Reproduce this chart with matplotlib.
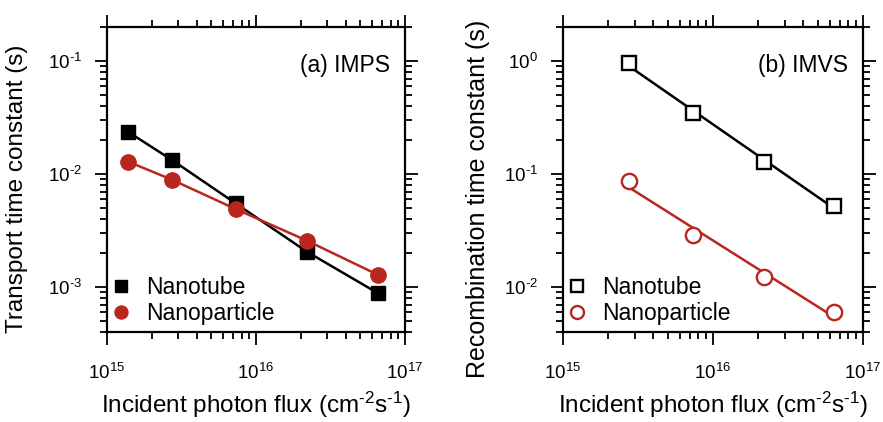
import numpy as np
import matplotlib
matplotlib.use("Agg")
import matplotlib.pyplot as plt
from matplotlib.ticker import FuncFormatter, LogLocator, NullFormatter

plt.rcParams['font.family'] = ['Liberation Sans', 'DejaVu Sans']
plt.rcParams['mathtext.fontset'] = 'custom'
plt.rcParams['mathtext.rm'] = 'Liberation Sans'
plt.rcParams['mathtext.it'] = 'Liberation Sans:italic'
plt.rcParams['mathtext.default'] = 'regular'
plt.rcParams['axes.unicode_minus'] = False

# Panel (a) IMPS
flux_a = [1.38e15, 2.73e15, 7.3e15, 2.2e16, 6.6e16]
tau_tr_tube = [0.0237, 0.0133, 0.0055, 0.00205, 0.00088]
tau_tr_part = [0.0129, 0.0089, 0.0049, 0.00257, 0.00128]

# Panel (b) IMVS
flux_b = [2.75e15, 7.35e15, 2.2e16, 6.45e16]
tau_rec_tube = [0.955, 0.344, 0.127, 0.052]
tau_rec_part = [0.0867, 0.0288, 0.0123, 0.00597]

RED = '#b8261e'


def pow10(v, pos):
    n = int(round(np.log10(v)))
    s = str(n).replace('-', '\u2010')
    return '$10^{' + s + '}$'


fig = plt.figure(figsize=(8.83, 4.22), dpi=100)
ax1 = fig.add_axes([107/883, 1-332/422, 298/883, 305/422])
ax2 = fig.add_axes([563/883, 1-332/422, 300/883, 305/422])

# (a)
ax1.plot(flux_a, tau_tr_tube, '-', color='black', lw=1.8, zorder=2)
ax1.plot(flux_a, tau_tr_part, '-', color=RED, lw=1.8, zorder=2)
ax1.plot(flux_a, tau_tr_tube, 's', color='black', ms=10.5, ls='none', label='Nanotube', zorder=3)
ax1.plot(flux_a, tau_tr_part, 'o', color=RED, ms=11, ls='none', label='Nanoparticle', zorder=4)
ax1.set_ylim(4e-4, 0.2)
ax1.set_ylabel('Transport time constant (s)', fontsize=17.5)
ax1.yaxis.set_label_coords(-0.265, 0.47)
ax1.text(0.95, 0.875, '(a) IMPS', transform=ax1.transAxes, ha='right', va='center', fontsize=16.5)

# (b)
for y, c in [(tau_rec_tube, 'black'), (tau_rec_part, RED)]:
    p = np.polyfit(np.log10(flux_b), np.log10(y), 1)
    xs = np.array([min(flux_b), max(flux_b)])
    ax2.plot(xs, 10**np.polyval(p, np.log10(xs)), '-', color=c, lw=1.8, zorder=2)
ax2.plot(flux_b, tau_rec_tube, 's', mfc='white', mec='black', mew=1.7, ms=10, ls='none', label='Nanotube', zorder=3)
ax2.plot(flux_b, tau_rec_part, 'o', mfc='white', mec=RED, mew=1.7, ms=11, ls='none', label='Nanoparticle', zorder=3)
ax2.set_ylim(4e-3, 2.0)
ax2.set_ylabel('Recombination time constant (s)', fontsize=18)
ax2.yaxis.set_label_coords(-0.243, 0.435)
ax2.text(0.95, 0.875, '(b) IMVS', transform=ax2.transAxes, ha='right', va='center', fontsize=16.5)

for ax in (ax1, ax2):
    ax.set_xscale('log')
    ax.set_yscale('log')
    ax.set_xlim(1e15, 1e17)
    ax.set_xlabel('Incident photon flux (cm$^{\u20102}$s$^{\u20101}$)', fontsize=17.5, labelpad=5)
    ax.xaxis.set_major_formatter(FuncFormatter(pow10))
    ax.yaxis.set_major_formatter(FuncFormatter(pow10))
    ax.tick_params(which='both', direction='out', top=True, right=True, width=1.3, labelsize=13.5)
    ax.tick_params(which='major', length=9)
    ax.tick_params(which='minor', length=5)
    ax.tick_params(axis='x', which='major', pad=13)
    ax.tick_params(axis='y', which='major', pad=9)
    for s in ax.spines.values():
        s.set_linewidth(1.6)
    ax.yaxis.set_minor_locator(LogLocator(base=10, subs=np.arange(2, 10), numticks=20))
    ax.yaxis.set_minor_formatter(NullFormatter())
    ax.legend(loc='lower left', frameon=False, fontsize=16.5, handlelength=0.6, markerscale=0.85,
              handletextpad=0.8, borderaxespad=0.1, borderpad=0.2, labelspacing=0.15, numpoints=1)

fig.savefig('out.png', dpi=100)
